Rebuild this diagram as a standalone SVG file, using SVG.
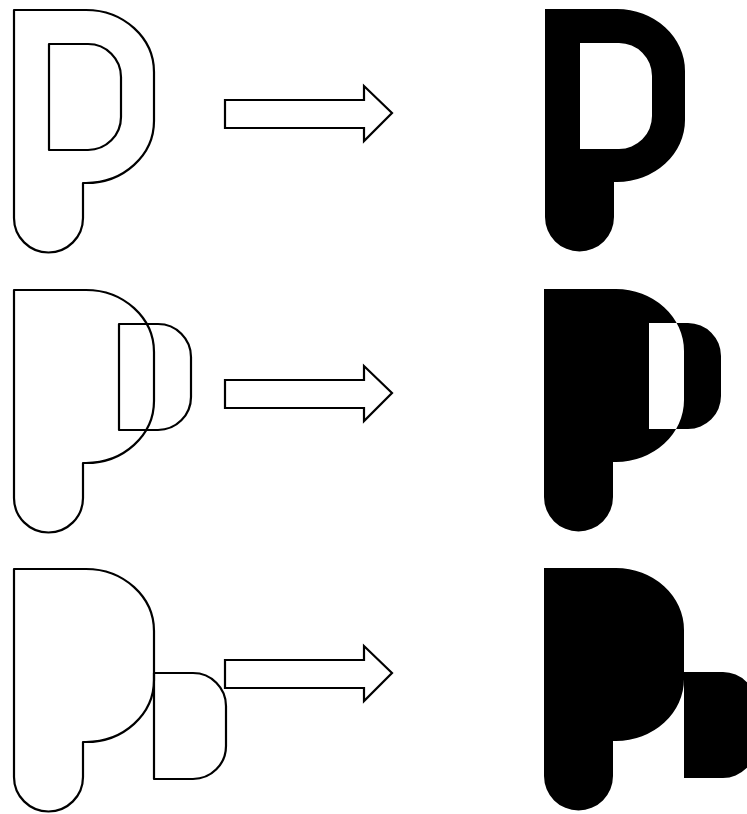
<svg xmlns="http://www.w3.org/2000/svg" xmlns:xlink="http://www.w3.org/1999/xlink" width="747" height="814" viewBox="0 0 747 814">
  <style>
    .outline { fill: none; stroke: #000; stroke-width: 2.2; stroke-linejoin: round; }
    .solid { fill: #000; fill-rule: evenodd; stroke: none; }
    .arrow { fill: #fff; stroke: #000; stroke-width: 2.2; stroke-linejoin: miter; }
  </style>
  <defs>
    <!-- letter body, its counter, and the block arrow, in row-local coordinates -->
    <path id="pBody" d="M14,10 H86 A68,62 0 0 1 154,72 V121 A68,62 0 0 1 86,183 H83 V218 A34.5,34.5 0 0 1 14,218 Z"/>
    <path id="counter" d="M49,44 H88 A33,33 0 0 1 121,77 V117 A33,33 0 0 1 88,150 H49 Z"/>
    <path id="dShift" d="M119,44 H158 A33,33 0 0 1 191,77 V117 A33,33 0 0 1 158,150 H119 Z"/>
    <path id="dSide" d="M154,114 H193 A33,33 0 0 1 226,147 V187 A33,33 0 0 1 193,220 H154 Z"/>
    <path id="blockArrow" d="M225,100 H364 V86 L392,113 L364,141 V128 H225 Z"/>
  </defs>
  <rect width="747" height="814" fill="#fff"/>

  <!-- row 1: counter inside the body -->
  <g id="outline-row1" class="outline">
    <use xlink:href="#pBody"/>
    <use xlink:href="#counter"/>
  </g>
  <g id="filled-row1" transform="translate(531,-1)">
    <path class="solid" d="M14,10 H86 A68,62 0 0 1 154,72 V121 A68,62 0 0 1 86,183 H83 V218 A34.5,34.5 0 0 1 14,218 Z M49,44 H88 A33,33 0 0 1 121,77 V117 A33,33 0 0 1 88,150 H49 Z"/>
  </g>

  <!-- row 2: second contour overlapping the bowl -->
  <g id="outline-row2" class="outline" transform="translate(0,280)">
    <use xlink:href="#pBody"/>
    <use xlink:href="#dShift"/>
  </g>
  <g id="filled-row2" transform="translate(530,279)">
    <path class="solid" d="M14,10 H86 A68,62 0 0 1 154,72 V121 A68,62 0 0 1 86,183 H83 V218 A34.5,34.5 0 0 1 14,218 Z M119,44 H158 A33,33 0 0 1 191,77 V117 A33,33 0 0 1 158,150 H119 Z"/>
  </g>

  <!-- row 3: second contour beside the body -->
  <g id="outline-row3" class="outline" transform="translate(0,559)">
    <use xlink:href="#pBody"/>
    <use xlink:href="#dSide"/>
  </g>
  <g id="filled-row3" transform="translate(530,558)">
    <path class="solid" d="M14,10 H86 A68,62 0 0 1 154,72 V121 A68,62 0 0 1 86,183 H83 V218 A34.5,34.5 0 0 1 14,218 Z M154,114 H193 A33,33 0 0 1 226,147 V187 A33,33 0 0 1 193,220 H154 Z"/>
  </g>

  <!-- block arrows -->
  <g id="connectors">
    <use class="arrow" xlink:href="#blockArrow"/>
    <use class="arrow" xlink:href="#blockArrow" transform="translate(0,280)"/>
    <use class="arrow" xlink:href="#blockArrow" transform="translate(0,560)"/>
  </g>
</svg>
